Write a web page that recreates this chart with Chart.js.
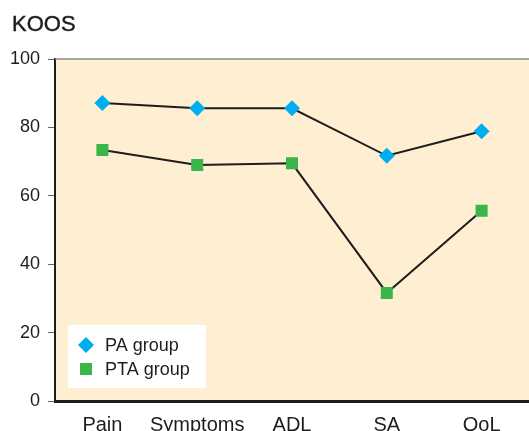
<!DOCTYPE html>
<html>
<head>
<meta charset="utf-8">
<script src="https://cdn.jsdelivr.net/npm/chart.js@4"></script>
<style>
  html, body { margin: 0; padding: 0; background: #fff; overflow: hidden; }
  #wrap { width: 529px; height: 431px; }
</style>
</head>
<body>
<div id="wrap"><canvas id="koosChart" width="529" height="431"></canvas></div>
<script>
const categories = ['Pain', 'Symptoms', 'ADL', 'SA', 'QoL'];
const paGroup = [87.1, 85.6, 85.6, 71.7, 78.9];
const ptaGroup = [73.4, 69.0, 69.5, 31.6, 55.6];
const yTicks = [0, 20, 40, 60, 80, 100];

const FONT = '"Liberation Sans", Arial, sans-serif';
const INK = '#1f1c1d';

// background, frame lines, title and the in-plot legend
const decor = {
    id: 'decor',
    beforeDraw(chart) {
        const { ctx, chartArea: a } = chart;
        ctx.save();
        ctx.fillStyle = '#FEEFD3';
        ctx.fillRect(a.left, a.top, a.right - a.left, a.bottom - a.top);
        ctx.restore();
    },
    afterDraw(chart) {
        const { ctx, chartArea: a } = chart;
        ctx.save();
        // top frame
        ctx.strokeStyle = '#8a8a8a';
        ctx.lineWidth = 1.5;
        ctx.beginPath();
        ctx.moveTo(a.left, a.top);
        ctx.lineTo(a.right, a.top);
        ctx.stroke();

        // title
        ctx.fillStyle = INK;
        ctx.strokeStyle = INK;
        ctx.lineWidth = 0.4;
        ctx.font = '22px ' + FONT;
        ctx.textBaseline = 'middle';
        ctx.fillText('KOOS', 12, 25);
        ctx.strokeText('KOOS', 12, 25);

        // legend box
        const bx = a.left + 13, by = 325, bw = 138, bh = 63;
        ctx.fillStyle = '#ffffff';
        ctx.fillRect(bx, by, bw, bh);
        ctx.font = '18px ' + FONT;
        chart.data.datasets.forEach((ds, i) => {
            const y = by + 20 + i * 24;
            Chart.helpers.drawPoint(ctx, {
                pointStyle: ds.pointStyle,
                radius: ds.pointRadius,
                borderWidth: 0
            }, a.left + 31, y);
            ctx.fillStyle = ds.pointBackgroundColor;
            ctx.fill();
            ctx.fillStyle = INK;
            ctx.fillText(ds.label, a.left + 50, y + 1);
        });
        ctx.restore();
    }
};

new Chart(document.getElementById('koosChart'), {
    type: 'line',
    data: {
        labels: categories,
        datasets: [{
            label: 'PA group',
            data: paGroup,
            borderColor: INK,
            borderWidth: 2,
            pointStyle: 'rectRot',
            pointRadius: 8,
            pointBackgroundColor: '#00AEEF',
            pointBorderWidth: 0,
            tension: 0
        }, {
            label: 'PTA group',
            data: ptaGroup,
            borderColor: INK,
            borderWidth: 2,
            pointStyle: 'rect',
            pointRadius: 8.5,
            pointBackgroundColor: '#39B54A',
            pointBorderWidth: 0,
            tension: 0
        }]
    },
    options: {
        responsive: false,
        animation: false,
        layout: {
            autoPadding: false,
            padding: { top: 59, left: 0, right: 0, bottom: 0 }
        },
        scales: {
            x: {
                offset: true,
                grid: { display: false, drawTicks: false },
                border: { display: true, color: INK, width: 3 },
                ticks: {
                    color: INK,
                    padding: 12,
                    maxRotation: 0,
                    autoSkip: false,
                    font: { family: FONT, size: 20 }
                },
                afterFit(scale) {
                    scale.height = 30;
                    scale.paddingLeft = 0;
                    scale.paddingRight = 0;
                }
            },
            y: {
                min: 0,
                max: 100,
                afterBuildTicks(scale) {
                    scale.ticks = yTicks.map(v => ({ value: v }));
                },
                grid: {
                    drawOnChartArea: false,
                    tickLength: 7,
                    color: '#666'
                },
                border: { display: true, color: INK, width: 2 },
                ticks: {
                    color: INK,
                    padding: 8,
                    font: { family: FONT, size: 18 }
                },
                afterFit(scale) {
                    scale.width = 55;
                    scale.paddingTop = 0;
                    scale.paddingBottom = 0;
                }
            }
        },
        plugins: {
            legend: { display: false },
            tooltip: { enabled: false }
        }
    },
    plugins: [decor]
});
</script>
</body>
</html>
